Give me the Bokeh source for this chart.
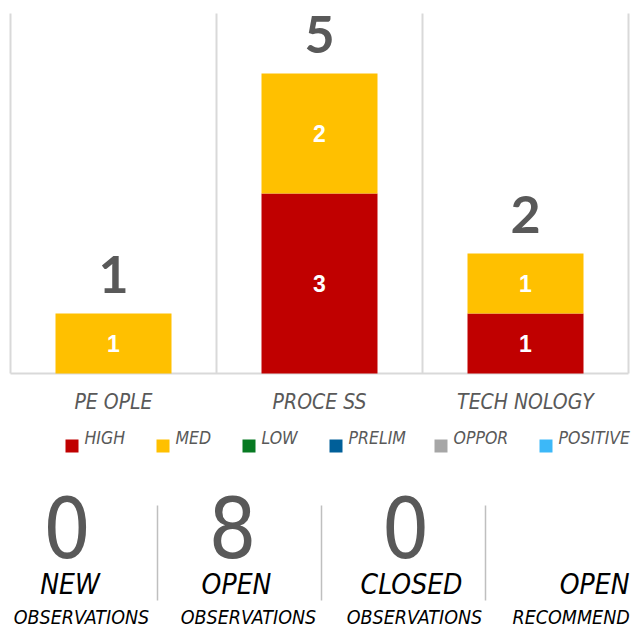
from bokeh.plotting import figure
from bokeh.models import ColumnDataSource, Range1d
from bokeh.core.properties import value
from bokeh.embed import file_html
from bokeh.resources import INLINE

# ---- data ----
categories = ["PEOPLE", "PROCESS", "TECHNOLOGY"]
category_labels = ["PE OPLE", "PROCE SS", "TECH NOLOGY"]
high = [0, 3, 1]
med = [1, 2, 1]
low = [0, 0, 0]
prelim = [0, 0, 0]
oppor = [0, 0, 0]
positive = [0, 0, 0]
series_names = ["HIGH", "MED", "LOW", "PRELIM", "OPPOR", "POSITIVE"]
series_colors = ["#c00000", "#ffc000", "#077a22", "#005f99", "#a6a6a6", "#3cb8f8"]
stat_values = ["0", "8", "0", ""]
stat_titles = ["NEW", "OPEN", "CLOSED", "OPEN"]
stat_subtitles = ["OBSERVATIONS", "OBSERVATIONS", "OBSERVATIONS", "RECOMMEND"]

# ---- layout helpers (page pixels -> data units) ----
W, H = 632, 627
PX_PER_X = 206.0
PX_PER_Y = 60.0
X0_PAGE = 10.0     # page x of data x = 0
Y0_PAGE = 373.0    # page y of data y = 0

def dx(px):
    return (px - X0_PAGE) / PX_PER_X

def dy(py):
    return (Y0_PAGE - py) / PX_PER_Y

p = figure(width=W, height=H, output_backend="svg", toolbar_location=None,
           x_range=Range1d(dx(0), dx(W)), y_range=Range1d(dy(H), dy(0)),
           min_border=0, min_border_left=0, min_border_right=0,
           min_border_top=0, min_border_bottom=0)
p.axis.visible = False
p.grid.visible = False
p.outline_line_color = None
p.background_fill_color = "white"

NARROW = "'DejaVu Sans Condensed', 'Liberation Sans'"

xs = [i + 0.5 for i in range(len(categories))]
src = ColumnDataSource(dict(x=xs, HIGH=high, MED=med, LOW=low, PRELIM=prelim,
                            OPPOR=oppor, POSITIVE=positive))

# category separators and baseline
ymax = 6.0
n = len(categories) + 1
p.segment(x0=list(range(n)), y0=[0] * n, x1=list(range(n)), y1=[ymax] * n,
          line_color="#d9d9d9", line_width=2)
p.segment(x0=[0], y0=[0], x1=[len(categories)], y1=[0], line_color="#d9d9d9", line_width=2)

# stacked bars
p.vbar_stack(series_names, x="x", width=116 / PX_PER_X, color=series_colors,
             source=src, line_color=None)

# segment labels
series_vals = [high, med, low, prelim, oppor, positive]
lx, ly, lt = [], [], []
for i, x in enumerate(xs):
    base = 0
    for vals in series_vals:
        v = vals[i]
        if v > 0:
            lx.append(x)
            ly.append(base + v / 2)
            lt.append(str(v))
        base += v
p.text(x=lx, y=ly, text=lt, text_align="center", text_baseline="middle",
       text_color="white", text_font=value("Liberation Sans"), text_font_style="bold",
       text_font_size="23px")

# totals
totals = [sum(v[i] for v in series_vals) for i in range(len(categories))]
p.text(x=xs, y=[t + 39 / PX_PER_Y for t in totals], text=[str(t) for t in totals],
       text_align="center", text_baseline="middle", text_color="#595959",
       text_font=value("Lato"), text_font_style="bold", text_font_size="52px")

# category labels
p.text(x=xs, y=[dy(401)] * len(xs), text=category_labels, text_align="center",
       text_baseline="middle", text_color="#595959", text_font=value(NARROW),
       text_font_style="italic", text_font_size="21px")

# legend
leg_sq_left = [65, 156, 242, 329, 434, 539]
p.rect(x=[dx(l + 6.5) for l in leg_sq_left], y=[dy(445.5)] * len(leg_sq_left),
       width=13, height=13, width_units="screen", height_units="screen",
       color=series_colors, line_color=None)
p.text(x=[dx(l + 19) for l in leg_sq_left], y=[dy(437)] * len(leg_sq_left),
       text=series_names, text_align="left", text_baseline="middle",
       text_color="#595959", text_font=value(NARROW), text_font_style="italic",
       text_font_size="17.5px")

# bottom statistics
num_cx = [66.5, 232, 405, 600]
title_x = [69.5, 236, 411, 629]
title_align = ["center", "center", "center", "right"]
sub_x = [81, 248, 414, 512]
sub_align = ["center", "center", "center", "left"]
p.text(x=[dx(c) for c in num_cx], y=[dy(526)] * 4, text=stat_values,
       text_align="center", text_baseline="middle", text_color="#595959",
       text_font=value(NARROW), text_font_size="84px")
title_src = ColumnDataSource(dict(x=[dx(c) for c in title_x], y=[dy(584)] * 4,
                                  t=stat_titles, a=title_align))
p.text(x="x", y="y", text="t", text_align="a", source=title_src,
       text_baseline="middle", text_color="black",
       text_font=value(NARROW), text_font_style="italic", text_font_size="28px")
sub_src = ColumnDataSource(dict(x=[dx(c) for c in sub_x], y=[dy(616.5)] * 4,
                                t=stat_subtitles, a=sub_align))
p.text(x="x", y="y", text="t", text_align="a", source=sub_src,
       text_baseline="middle", text_color="black",
       text_font=value(NARROW), text_font_style="italic", text_font_size="19.5px")
sep_px = [157, 321, 485]
p.segment(x0=[dx(s) for s in sep_px], y0=[dy(505)] * 3, x1=[dx(s) for s in sep_px],
          y1=[dy(600)] * 3, line_color="#bfbfbf", line_width=1.5)

open("out.html", "w").write(file_html(p, INLINE))
